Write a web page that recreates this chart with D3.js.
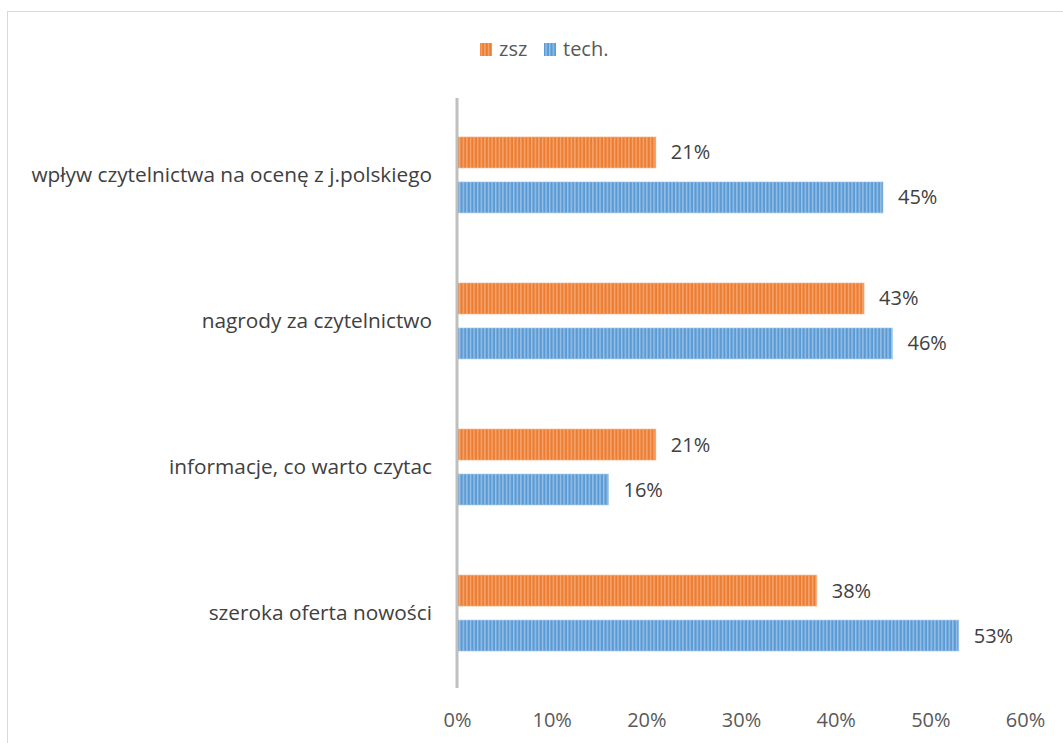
<!DOCTYPE html>
<html><head><meta charset="utf-8">
<script src="https://cdn.jsdelivr.net/npm/d3@7"></script>
<style>body{margin:0;background:#fff;} svg{display:block;}</style>
</head><body>
<script>
const categories = ["wpływ czytelnictwa na ocenę z j.polskiego","nagrody za czytelnictwo","informacje, co warto czytac","szeroka oferta nowości"];
const seriesNames = ["zsz","tech."];
const zsz = [0.21,0.43,0.21,0.38];
const tech = [0.45,0.46,0.16,0.53];
const ticks = [0,0.1,0.2,0.3,0.4,0.5,0.6];
const colors = ["#ED7D31","#5B9BD5"];
const lightColors = ["#F6B184","#A9CBEB"];
const FONT = "'Open Sans', Lato, sans-serif";
const FS = 20;

const W=1063,H=743;
const svg=d3.select("body").append("svg").attr("width",W).attr("height",H);
const defs=svg.append("defs");
colors.forEach((c,i)=>{
  const p=defs.append("pattern").attr("id","pat"+i).attr("patternUnits","userSpaceOnUse").attr("width",3.6).attr("height",10);
  p.append("rect").attr("width",3.6).attr("height",10).attr("fill",c);
  p.append("rect").attr("x",1.8).attr("width",1.4).attr("height",10).attr("fill",lightColors[i]).attr("opacity",0.8);
});
svg.append("rect").attr("x",7.5).attr("y",11.5).attr("width",W).attr("height",H).attr("fill","none").attr("stroke","#d9d9d9");

const x=d3.scaleLinear().domain([0,0.6]).range([457,1025]);
const y=d3.scaleBand().domain(categories).range([99,689]).paddingInner(0.48).paddingOuter(0.26);
const sub=d3.scaleBand().domain(seriesNames).range([0,y.bandwidth()]).paddingInner(0.311);

const data=[zsz,tech];
const g=svg.append("g");
seriesNames.forEach((s,si)=>{
  g.selectAll(".b"+si).data(categories).enter().append("rect")
   .attr("x",x(0)).attr("y",c=>y(c)+sub(s)).attr("width",(c,i)=>x(data[si][i])-x(0)).attr("height",sub.bandwidth())
   .attr("fill","url(#pat"+si+")").attr("stroke",lightColors[si]).attr("stroke-width",1).attr("stroke-opacity",0.6);
  g.selectAll(".l"+si).data(categories).enter().append("text")
   .attr("x",(c,i)=>x(data[si][i])+15).attr("y",c=>y(c)+sub(s)+sub.bandwidth()/2).attr("dy","0.35em")
   .attr("font-family",FONT).attr("font-size",FS).attr("fill","#404040")
   .text((c,i)=>Math.round(data[si][i]*100)+"%");
});

// axis line
svg.append("line").attr("x1",x(0)).attr("x2",x(0)).attr("y1",98).attr("y2",688).attr("stroke","#bfbfbf").attr("stroke-width",3);

// category labels
svg.selectAll(".cat").data(categories).enter().append("text")
 .attr("x",432).attr("y",c=>y(c)+y.bandwidth()/2).attr("dy","0.35em").attr("text-anchor","end")
 .attr("font-family",FONT).attr("font-size",20.8).attr("fill","#404040").text(c=>c);

// x ticks
const xa=svg.append("g").call(d3.axisBottom(x).tickValues(ticks).tickFormat(d3.format(".0%")).tickSize(0));
xa.select(".domain").remove();
xa.selectAll("text").attr("y",720).attr("dy","0.35em").attr("font-family",FONT).attr("font-size",FS).attr("fill","#595959");

// legend
const leg=svg.append("g");
const lx=[480,544];
seriesNames.forEach((s,i)=>{
  leg.append("rect").attr("x",lx[i]).attr("y",43).attr("width",12).attr("height",13).attr("fill","url(#pat"+i+")");
  leg.append("text").attr("x",lx[i]+19).attr("y",49).attr("dy","0.35em").attr("font-family",FONT).attr("font-size",FS).attr("fill","#595959").text(s);
});
</script>
</body></html>
